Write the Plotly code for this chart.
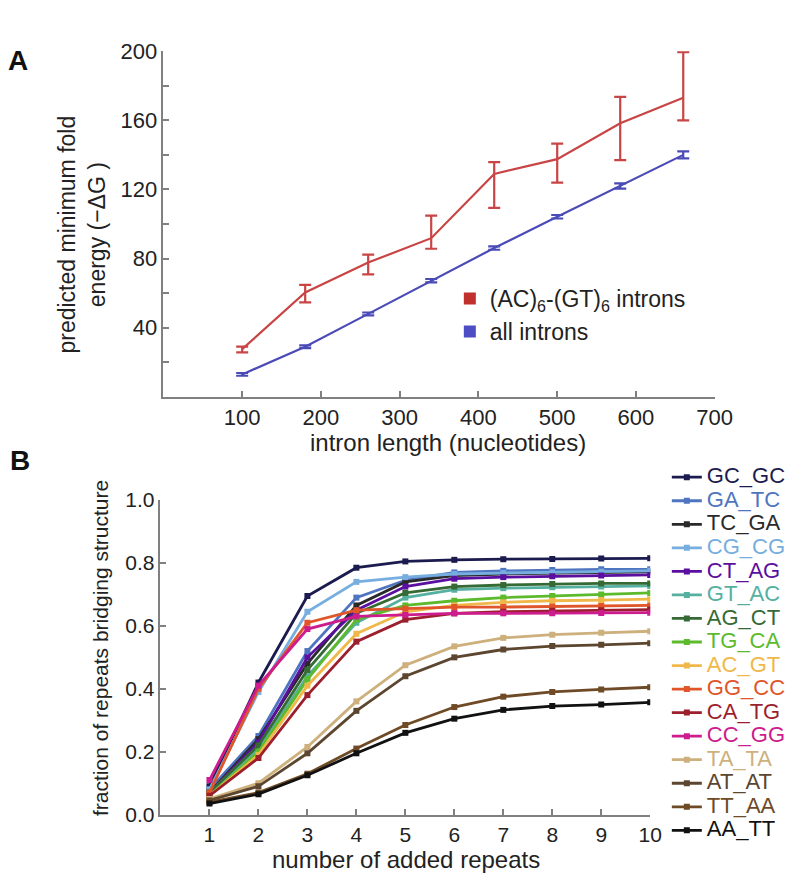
import plotly.graph_objects as go

W, H = 800, 878
def px(x): return x / W
def py(y): return 1 - y / H

FONT = "Liberation Sans, Arial, Helvetica, sans-serif"

# ---------------- Panel A data ----------------
intron_len = [100, 180, 260, 340, 420, 500, 580, 660]
ac_gt_mfe = [27.6, 60.4, 77.7, 91.8, 129.0, 137.5, 158.3, 173.0]
ac_gt_err_plus = [1.5, 4.4, 4.6, 13.0, 6.8, 9.0, 15.2, 26.4]
ac_gt_err_minus = [1.9, 5.7, 6.8, 6.1, 19.7, 13.5, 21.3, 13.0]
all_mfe = [13.0, 29.0, 48.0, 67.2, 86.1, 104.2, 122.0, 140.0]
all_err = [0.8, 0.8, 0.8, 1.0, 1.0, 1.0, 1.5, 2.0]

a_xticks = [100, 200, 300, 400, 500, 600, 700]
a_yticks = [40, 80, 120, 160, 200]
a_yminor = [20, 60, 100, 140, 180]

# ---------------- Panel B data ----------------
added_repeats = [1, 2, 3, 4, 5, 6, 7, 8, 9, 10]
series_names = ["GC_GC", "GA_TC", "TC_GA", "CG_CG", "CT_AG", "GT_AC", "AG_CT", "TG_CA",
                "AC_GT", "GG_CC", "CA_TG", "CC_GG", "TA_TA", "AT_AT", "TT_AA", "AA_TT"]
GC_GC = [0.09, 0.42, 0.695, 0.785, 0.805, 0.81, 0.812, 0.813, 0.814, 0.815]
GA_TC = [0.08, 0.25, 0.52, 0.69, 0.745, 0.77, 0.775, 0.778, 0.78, 0.78]
TC_GA = [0.07, 0.24, 0.48, 0.665, 0.74, 0.76, 0.765, 0.768, 0.77, 0.772]
CG_CG = [0.08, 0.39, 0.645, 0.74, 0.755, 0.765, 0.768, 0.77, 0.772, 0.775]
CT_AG = [0.07, 0.23, 0.50, 0.65, 0.725, 0.75, 0.755, 0.758, 0.76, 0.762]
GT_AC = [0.07, 0.21, 0.44, 0.61, 0.69, 0.715, 0.72, 0.723, 0.725, 0.727]
AG_CT = [0.07, 0.22, 0.46, 0.64, 0.705, 0.725, 0.73, 0.733, 0.735, 0.735]
TG_CA = [0.06, 0.20, 0.43, 0.62, 0.665, 0.68, 0.69, 0.695, 0.70, 0.705]
AC_GT = [0.06, 0.19, 0.41, 0.575, 0.645, 0.665, 0.675, 0.68, 0.682, 0.685]
GG_CC = [0.07, 0.40, 0.61, 0.65, 0.655, 0.66, 0.66, 0.662, 0.663, 0.665]
CA_TG = [0.06, 0.18, 0.38, 0.55, 0.62, 0.64, 0.645, 0.648, 0.65, 0.652]
CC_GG = [0.11, 0.41, 0.59, 0.63, 0.635, 0.64, 0.64, 0.64, 0.641, 0.642]
TA_TA = [0.05, 0.10, 0.215, 0.36, 0.475, 0.535, 0.562, 0.572, 0.578, 0.583]
AT_AT = [0.045, 0.09, 0.195, 0.33, 0.44, 0.50, 0.525, 0.536, 0.54, 0.545]
TT_AA = [0.04, 0.07, 0.13, 0.21, 0.285, 0.342, 0.375, 0.39, 0.398, 0.405]
AA_TT = [0.035, 0.065, 0.125, 0.195, 0.26, 0.305, 0.333, 0.345, 0.35, 0.357]
series_values = [GC_GC, GA_TC, TC_GA, CG_CG, CT_AG, GT_AC, AG_CT, TG_CA,
                 AC_GT, GG_CC, CA_TG, CC_GG, TA_TA, AT_AT, TT_AA, AA_TT]
series_colors = ["#1c1b4f", "#4f74c0", "#2a2a2a", "#77aee0", "#5b0f9e", "#55b0a0",
                 "#356a35", "#5cba2c", "#f0b848", "#e0562a", "#9c1f2e", "#cc1c8e",
                 "#cdb07c", "#5c4630", "#6e4a26", "#111111"]
b_xticks = [1, 2, 3, 4, 5, 6, 7, 8, 9, 10]
b_yticks = [0.0, 0.2, 0.4, 0.6, 0.8, 1.0]

RED = "#c94444"
BLUE = "#4b4bb8"

fig = go.Figure()

# Panel A
fig.add_trace(go.Scatter(
    x=intron_len, y=ac_gt_mfe, mode="lines", line=dict(color=RED, width=2.2),
    error_y=dict(type="data", symmetric=False, array=ac_gt_err_plus,
                 arrayminus=ac_gt_err_minus, color=RED, thickness=2.2, width=6),
    showlegend=False, xaxis="x", yaxis="y"))
fig.add_trace(go.Scatter(
    x=intron_len, y=all_mfe, mode="lines", line=dict(color=BLUE, width=2.2),
    error_y=dict(type="data", array=all_err, color=BLUE, thickness=2.2, width=6),
    showlegend=False, xaxis="x", yaxis="y"))
fig.add_trace(go.Scatter(
    x=[None], y=[None], mode="markers", marker=dict(symbol="square", size=12, color="#c0302c"),
    name="(AC)<sub>6</sub>-(GT)<sub>6</sub> introns", legend="legend", xaxis="x", yaxis="y"))
fig.add_trace(go.Scatter(
    x=[None], y=[None], mode="markers", marker=dict(symbol="square", size=12, color="#4e4ec4"),
    name="all introns", legend="legend", xaxis="x", yaxis="y"))

# Panel B
for name, vals, col in zip(series_names, series_values, series_colors):
    fig.add_trace(go.Scatter(
        x=added_repeats, y=vals, mode="lines+markers",
        line=dict(color=col, width=2.8),
        marker=dict(symbol="square", size=6, color=col),
        name=f"<span style='color:{col};font-size:22px'>{name}</span>",
        legend="legend2", xaxis="x2", yaxis="y2"))

axis_common = dict(showline=True, linecolor="#808080", linewidth=1.6, ticks="inside",
                   ticklen=6, tickwidth=1.6, tickcolor="#808080", showgrid=False,
                   zeroline=False, mirror=False)

fig.update_layout(
    width=W, height=H, margin=dict(l=0, r=0, t=0, b=0),
    paper_bgcolor="white", plot_bgcolor="white",
    font=dict(family=FONT, color="#222222"),
    xaxis=dict(domain=[px(159), px(723)], range=[0, 700], anchor="y",
               tickmode="array", tickvals=a_xticks, tickfont=dict(size=22),
               **axis_common),
    yaxis=dict(domain=[py(387), py(32)], range=[0, 200], anchor="x",
               tickmode="array", tickvals=a_yticks, tickfont=dict(size=22),
               minor=dict(tickmode="array", tickvals=a_yminor, ticks="inside",
                          ticklen=6, tickwidth=1.6, tickcolor="#808080"),
               **axis_common),
    xaxis2=dict(domain=[px(156), px(657)], range=[0, 10], anchor="y2",
                tickmode="array", tickvals=b_xticks, tickfont=dict(size=21),
                **axis_common),
    yaxis2=dict(domain=[py(816), py(493)], range=[0, 1.0], anchor="x2",
                tickmode="array", tickvals=b_yticks, tickformat=".1f",
                tickfont=dict(size=21), **axis_common),
    legend=dict(x=px(452), y=py(303), xanchor="left", yanchor="middle",
                font=dict(size=23, color="#222222"), bgcolor="rgba(0,0,0,0)",
                itemwidth=30),
    legend2=dict(x=px(674), y=py(651), xanchor="left", yanchor="middle",
                 font=dict(size=15.8, color="#222222"), bgcolor="rgba(0,0,0,0)",
                 itemwidth=30),
)

ann = [
    dict(text="<b>A</b>", x=px(10), y=py(42), font=dict(size=28, color="#111")),
    dict(text="<b>B</b>", x=px(12), y=py(452), font=dict(size=28, color="#111")),
    dict(text="predicted minimum fold<br>energy (−ΔG )", x=px(76), y=py(220),
         textangle=-90, font=dict(size=23, color="#222")),
    dict(text="intron length (nucleotides)", x=px(450), y=py(434),
         font=dict(size=24, color="#222")),
    dict(text="fraction of repeats bridging structure", x=px(94), y=py(645),
         textangle=-90, font=dict(size=21, color="#222")),
    dict(text="number of added repeats", x=px(407), y=py(862),
         font=dict(size=24, color="#222")),
]
for a in ann:
    fig.add_annotation(xref="paper", yref="paper", showarrow=False,
                       xanchor="center", yanchor="middle", **a)

fig.write_html("out.html")
